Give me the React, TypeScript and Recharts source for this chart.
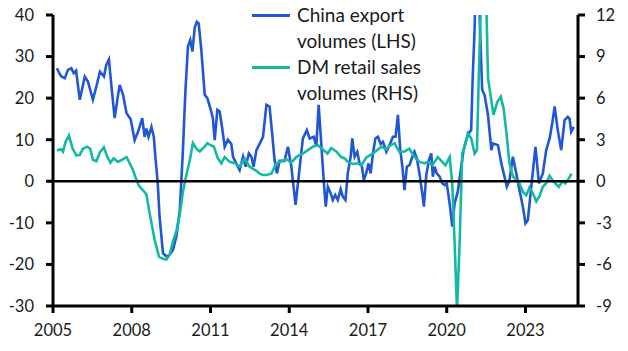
import { LineChart, Line, XAxis, YAxis, ReferenceLine } from "recharts";

const BLUE = "#2257d4";
const TEAL = "#14b9a6";
const INK = "#1a1a1a";
const FONT = "Lato, 'Noto Sans', sans-serif";

const YEAR_TICKS = [2005, 2008, 2011, 2014, 2017, 2020, 2023];
const LEFT_TICKS = [-30, -20, -10, 0, 10, 20, 30, 40];
const RIGHT_TICKS = [-9, -6, -3, 0, 3, 6, 9, 12];

// China export volumes, % y/y (LHS)
const chinaDates = [
  2005.15, 2005.24, 2005.32, 2005.45, 2005.57, 2005.7, 2005.79, 2005.88, 2006.02, 2006.21,
  2006.33, 2006.52, 2006.66, 2006.79, 2006.94, 2007.03, 2007.13, 2007.24, 2007.35, 2007.46,
  2007.54, 2007.67, 2007.8, 2007.96, 2008.11, 2008.24, 2008.4, 2008.49, 2008.56, 2008.64,
  2008.75, 2008.84, 2008.91, 2008.99, 2009.06, 2009.19, 2009.32, 2009.44, 2009.57, 2009.7,
  2009.83, 2009.95, 2010.04, 2010.14, 2010.23, 2010.31, 2010.4, 2010.48, 2010.55, 2010.65,
  2010.78, 2010.88, 2011.01, 2011.09, 2011.16, 2011.26, 2011.35, 2011.44, 2011.54, 2011.66,
  2011.79, 2011.86, 2011.98, 2012.11, 2012.24, 2012.34, 2012.46, 2012.56, 2012.64, 2012.75,
  2012.87, 2013.0, 2013.13, 2013.25, 2013.36, 2013.44, 2013.53, 2013.63, 2013.82, 2013.95,
  2014.08, 2014.24, 2014.4, 2014.52, 2014.67, 2014.78, 2014.94, 2015.03, 2015.12, 2015.22,
  2015.32, 2015.39, 2015.47, 2015.58, 2015.66, 2015.75, 2015.85, 2015.96, 2016.04, 2016.14,
  2016.23, 2016.34, 2016.4, 2016.49, 2016.59, 2016.68, 2016.77, 2016.84, 2016.93, 2017.02,
  2017.1, 2017.19, 2017.28, 2017.38, 2017.48, 2017.57, 2017.7, 2017.82, 2017.95, 2018.05,
  2018.14, 2018.23, 2018.31, 2018.39, 2018.48, 2018.58, 2018.69, 2018.77, 2018.86, 2018.96,
  2019.05, 2019.13, 2019.22, 2019.32, 2019.41, 2019.47, 2019.54, 2019.62, 2019.73, 2019.83,
  2019.92, 2020.0, 2020.11, 2020.21, 2020.3, 2020.42, 2020.55, 2020.64, 2020.74, 2020.83,
  2020.93, 2020.99, 2021.06, 2021.15, 2021.25, 2021.35, 2021.44, 2021.57, 2021.7, 2021.76,
  2021.95, 2022.08, 2022.2, 2022.29, 2022.39, 2022.52, 2022.65, 2022.77, 2022.9, 2023.0,
  2023.09, 2023.22, 2023.38, 2023.51, 2023.66, 2023.79, 2023.92, 2024.02, 2024.11, 2024.23,
  2024.36, 2024.49, 2024.61, 2024.68, 2024.74, 2024.84,
];
const chinaValues = [
  27.2, 26, 25.2, 24.8, 26.8, 27.2, 26, 26.6, 19.6, 25.2,
  24, 19.6, 23, 26.4, 25.2, 28, 29.3, 22, 15.2, 20,
  23.2, 20.8, 16.4, 14.9, 9.9, 11.9, 15.2, 10.7, 12.7, 10.7,
  13.1, 10.7, 5.1, -0.4, -8.5, -17.3, -18.1, -17.7, -16.5, -13.3,
  -6.9, 7.5, 21.2, 32.4, 34, 31.2, 37, 38.4, 38, 31.6,
  20.8, 20, 17.2, 15.2, 9.9, 17.2, 16.8, 13, 8.3, 10,
  9, 5.9, 4.3, 2.7, 5.9, 3.5, 6.7, 5.9, 3.5, 7.5,
  9, 10.7, 18.4, 18, 10.7, 5.1, 1.9, 4.9, 4.9, 8.3,
  3.5, -5.7, 3.5, 10.3, 12.3, 10.3, 10.7, 8.3, 18.4, 9,
  -0.5, -6.1, -1.3, -2.9, -4.5, -3.3, -4.5, -1.9, -3.7, -4.5,
  1.9, 5.9, 10.3, 5.9, 7.1, 4.3, 3.5, 0.3, 1.9, 4.3,
  1.9, 6.7, 10.3, 10.7, 9, 9.5, 7.1, 8.7, 10.7, 10.7,
  16, 7.5, 3.5, -2.1, 3.5, 3.9, 5.9, 7.1, 5.5, 1.9,
  -2.1, -6.1, 1.5, 5.1, 6.7, 1.1, 3.5, 1.9, 1.1, -0.5,
  -0.9, -0.5, -5.3, -10.9, -5.3, -2.5, 3.5, 7.5, 9.9, 11.5,
  12.3, 25.2, 36.4, 60, 40, 22, 20.8, 16, 7.5, 9.1,
  8.7, 4.3, 1.1, -1.3, 0.3, 5.9, 1.9, -2.1, -6.1, -10.1,
  -9.3, -1.3, 8.3, -0.5, 1.9, 7.5, 10.3, 14, 18, 12.3,
  7.5, 14.7, 15.5, 15, 11.9, 13.1,
];

// DM retail sales volumes, % y/y (RHS)
const dmDates = [
  2005.15, 2005.32, 2005.38, 2005.48, 2005.61, 2005.74, 2005.89, 2006.02, 2006.14, 2006.3,
  2006.42, 2006.52, 2006.65, 2006.79, 2006.94, 2007.06, 2007.19, 2007.31, 2007.48, 2007.67,
  2007.8, 2007.92, 2008.05, 2008.15, 2008.28, 2008.43, 2008.56, 2008.68, 2008.87, 2009.04,
  2009.19, 2009.32, 2009.44, 2009.57, 2009.7, 2009.83, 2009.95, 2010.08, 2010.21, 2010.33,
  2010.46, 2010.59, 2010.78, 2010.88, 2011.01, 2011.13, 2011.28, 2011.41, 2011.54, 2011.73,
  2011.92, 2012.11, 2012.3, 2012.49, 2012.75, 2012.87, 2013.0, 2013.13, 2013.32, 2013.51,
  2013.7, 2013.89, 2014.08, 2014.27, 2014.4, 2014.52, 2014.71, 2014.9, 2015.09, 2015.28,
  2015.46, 2015.6, 2015.79, 2015.98, 2016.11, 2016.23, 2016.42, 2016.62, 2016.74, 2016.93,
  2017.13, 2017.32, 2017.51, 2017.7, 2017.82, 2018.01, 2018.2, 2018.39, 2018.58, 2018.77,
  2018.96, 2019.16, 2019.28, 2019.45, 2019.54, 2019.66, 2019.83, 2019.95, 2020.11, 2020.21,
  2020.3, 2020.39, 2020.49, 2020.59, 2020.72, 2020.8, 2020.93, 2021.06, 2021.15, 2021.22,
  2021.31, 2021.4, 2021.5, 2021.57, 2021.7, 2021.78, 2021.92, 2022.06, 2022.17, 2022.29,
  2022.39, 2022.52, 2022.65, 2022.77, 2022.9, 2023.03, 2023.15, 2023.28, 2023.41, 2023.53,
  2023.66, 2023.79, 2023.92, 2024.02, 2024.14, 2024.27, 2024.4, 2024.52, 2024.65, 2024.75,
];
const dmValues = [
  2.25, 2.3, 2.15, 2.85, 3.3, 2.4, 1.85, 1.9, 2.35, 2.5,
  2.35, 1.55, 1.45, 2.1, 2.45, 1.8, 1.35, 1.65, 1.4, 1.6,
  1.75, 1.3, 0.8, 0.25, -0.35, -0.65, -0.95, -2.3, -4.2, -5.45,
  -5.6, -5.65, -5.3, -4.35, -3.6, -2.4, -0.75, 0.45, 1.5, 2.75,
  2.35, 2.15, 2.5, 2.75, 2.6, 2.5, 1.65, 1.3, 1.75, 1.4,
  1.3, 1.05, 1.65, 1.05, 0.75, 0.55, 0.45, 0.45, 0.55, 1.3,
  1.45, 1.6, 1.35, 1.75, 1.9, 2.0, 2.25, 2.5, 2.6, 2.3,
  2.0, 2.4, 2.15, 1.75, 1.65, 1.4, 1.25, 1.3, 1.15, 1.7,
  1.95, 2.2, 2.5, 2.3, 2.55, 2.75, 2.1, 2.15, 2.35, 1.75,
  1.4, 1.3, 1.4, 1.15, 1.4, 1.75, 1.4, 1.15, 1.75, -0.15,
  -4.45, -9.3, -4.45, 2.0, 2.75, 3.45, 3.1, 2.0, 2.25, 7.55,
  13.5, 18, 13.5, 7.5, 5.8, 4.8, 5.7, 6.1, 5.2, 3.2,
  1.3, 0.35, 0.1, -0.15, -0.75, -1.0, -0.45, -0.85, -1.45, -1.1,
  -0.4, -0.15, 0.4, 0.1, -0.15, -0.4, 0, -0.15, 0.2, 0.55,
];

const chinaData = chinaDates.map((t, i) => ({ t, v: chinaValues[i] }));
const dmData = dmDates.map((t, i) => ({ t, v: dmValues[i] }));

const tickStyle = { fill: INK, fontSize: 16.5, fontFamily: FONT };
const axisStroke = { stroke: "#000", strokeWidth: 3 };

const LEGEND = [
  { color: BLUE, lines: ["China export", "volumes (LHS)"], top: 15 },
  { color: TEAL, lines: ["DM retail sales", "volumes (RHS)"], top: 67 },
];

function ChartLegend() {
  return (
    <>
      {LEGEND.map((item) => (
        <div key={item.lines[0]}>
          <div
            style={{
              position: "absolute",
              left: 252,
              top: item.top - 1.5,
              width: 38,
              height: 3,
              background: item.color,
            }}
          />
          {item.lines.map((text, i) => (
            <div
              key={text}
              style={{
                position: "absolute",
                left: 297,
                top: item.top - 13 + i * 26,
                height: 26,
                lineHeight: "26px",
                fontSize: 19,
                fontFamily: FONT,
                color: INK,
                whiteSpace: "nowrap",
              }}
            >
              {text}
            </div>
          ))}
        </div>
      ))}
    </>
  );
}

export default function App() {
  return (
    <div
      style={{
        position: "absolute",
        left: 0,
        top: 0,
        width: 628,
        height: 351,
        background: "#fff",
        overflow: "hidden",
      }}
    >
      <LineChart width={628} height={351} margin={{ top: 15, right: 5, bottom: 15, left: 8 }}>
        <XAxis
          type="number"
          dataKey="t"
          domain={[2005, 2025]}
          ticks={YEAR_TICKS}
          allowDataOverflow
          height={30}
          tick={tickStyle}
          tickSize={7}
          tickMargin={11}
          axisLine={axisStroke}
          tickLine={axisStroke}
        />
        <YAxis
          yAxisId="left"
          orientation="left"
          width={45}
          domain={[-30, 40]}
          ticks={LEFT_TICKS}
          allowDataOverflow
          tick={tickStyle}
          tickSize={7}
          tickMargin={12}
          axisLine={axisStroke}
          tickLine={axisStroke}
        />
        <YAxis
          yAxisId="right"
          orientation="right"
          width={45}
          domain={[-9, 12]}
          ticks={RIGHT_TICKS}
          allowDataOverflow
          tick={tickStyle}
          tickSize={7}
          tickMargin={11}
          axisLine={axisStroke}
          tickLine={axisStroke}
        />
        <Line
          yAxisId="left"
          data={chinaData}
          dataKey="v"
          type="linear"
          stroke={BLUE}
          strokeWidth={2.6}
          dot={false}
          isAnimationActive={false}
        />
        <Line
          yAxisId="right"
          data={dmData}
          dataKey="v"
          type="linear"
          stroke={TEAL}
          strokeWidth={2.6}
          dot={false}
          isAnimationActive={false}
        />
        <ReferenceLine yAxisId="left" y={0} stroke="#000" strokeWidth={2.6} />
      </LineChart>
      <ChartLegend />
    </div>
  );
}
